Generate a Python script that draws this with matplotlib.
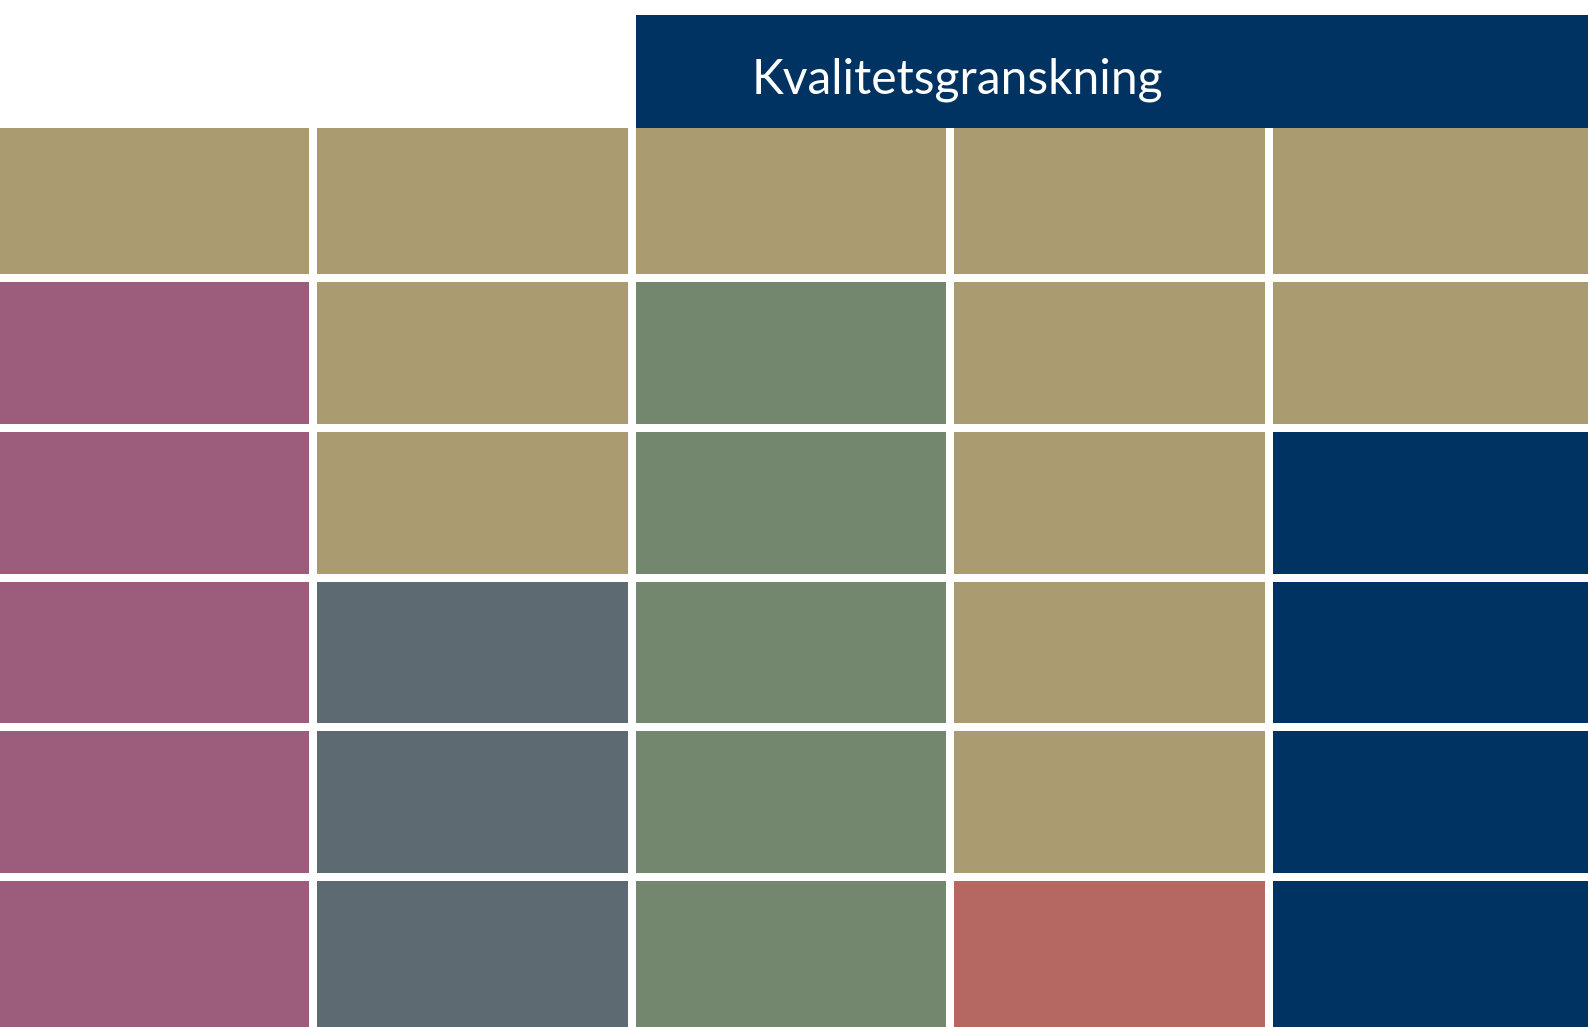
import numpy as np
import matplotlib.pyplot as plt
from matplotlib.colors import ListedColormap

# palette used in the grid
palette = ["#aa9b71", "#9c5d7c", "#73876e", "#5d6a72", "#003361", "#b56761"]
tan, plum, green, slate, navy, red = range(6)

header_text = "Kvalitetsgranskning"
header_cols = (2, 5)  # header spans these columns

# cell colours, one list per row (top to bottom)
row0 = [tan, tan, tan, tan, tan]
row1 = [plum, tan, green, tan, tan]
row2 = [plum, tan, green, tan, navy]
row3 = [plum, slate, green, tan, navy]
row4 = [plum, slate, green, tan, navy]
row5 = [plum, slate, green, red, navy]
grid = np.array([row0, row1, row2, row3, row4, row5])

W, H = 1588, 1027
fig = plt.figure(figsize=(W / 100, H / 100), dpi=100)
gap = 8 * 72 / 100  # white gutter in points

n_rows, n_cols = grid.shape
xl, xw = -6 / W, (W + 6) / W

# main grid
ax = fig.add_axes([xl, 0, xw, (H - 128) / H])
cmap = ListedColormap(palette)
ax.imshow(grid, cmap=cmap, vmin=-0.5, vmax=len(palette) - 0.5,
          aspect="auto", extent=(0, n_cols, n_rows, 0), interpolation="nearest")
for c in range(1, n_cols):
    ax.axvline(c, color="white", lw=gap)
for r in range(1, n_rows):
    ax.axhline(r, color="white", lw=gap)
ax.set_xlim(0, n_cols)
ax.set_ylim(n_rows, 0)
ax.axis("off")

# header band
hax = fig.add_axes([xl, (H - 128) / H, xw, 113 / H])
hax.axvspan(header_cols[0], header_cols[1], color=palette[navy], lw=0)
hax.axvline(header_cols[0], color="white", lw=gap)
hax.set_xlim(0, n_cols)
hax.set_ylim(0, 1)
hax.axis("off")
fig.text(752 / W, 1 - 93 / H, header_text, color="white", family="Lato",
         fontsize=34.6, ha="left", va="baseline")

fig.savefig("out.png", dpi=100)
